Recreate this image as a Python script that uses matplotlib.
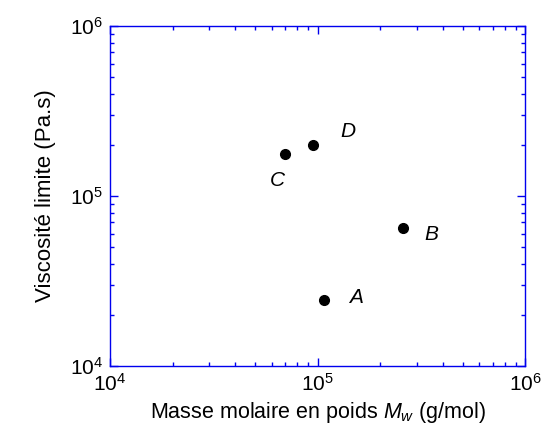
import numpy as np
import matplotlib
matplotlib.use("Agg")
import matplotlib.pyplot as plt
from matplotlib.ticker import LogLocator, FuncFormatter, NullFormatter

plt.rcParams["font.family"] = ["Liberation Sans", "DejaVu Sans"]
plt.rcParams["mathtext.fontset"] = "custom"
plt.rcParams["mathtext.rm"] = "Liberation Sans"
plt.rcParams["mathtext.it"] = "Liberation Sans:italic"

# ---- données ----
echantillons = ["A", "B", "C", "D"]
mw = [1.07e5, 2.57e5, 6.97e4, 9.55e4]          # g/mol
visco = [2.46e4, 6.5e4, 1.78e5, 2.0e5]          # Pa.s
decalages = [(32, 2), (29, -7), (-8, -27), (34, 13)]  # position des lettres, en pixels

BLEU = "#0000ee"

fig = plt.figure(figsize=(5.42, 4.29), dpi=100)
ax = fig.add_axes([0.203, 0.147, 0.766, 0.792])

ax.plot(mw, visco, "o", color="black", ms=7, ls="none")
for nom, x, y, (dx, dy) in zip(echantillons, mw, visco, decalages):
    ax.annotate(nom, (x, y), xytext=(dx * 0.72, dy * 0.72), textcoords="offset points",
                ha="center", va="center", fontsize=15, style="italic")

ax.set_xscale("log")
ax.set_yscale("log")
ax.set_xlim(1e4, 1e6)
ax.set_ylim(1e4, 1e6)

fmt = FuncFormatter(lambda v, p: r"$10^{%d}$" % round(np.log10(v)))
for axe in (ax.xaxis, ax.yaxis):
    axe.set_major_locator(LogLocator(base=10, numticks=5))
    axe.set_minor_locator(LogLocator(base=10, subs=np.arange(2, 10), numticks=20))
    axe.set_major_formatter(fmt)
    axe.set_minor_formatter(NullFormatter())

ax.tick_params(which="both", direction="in", top=True, right=True, color=BLEU, width=1)
ax.tick_params(which="major", length=6, labelsize=15, pad=5)
ax.tick_params(which="minor", length=3)
for sp in ax.spines.values():
    sp.set_color(BLEU)
    sp.set_linewidth(1)

ax.set_xlabel(r"Masse molaire en poids $M_{w}$ (g/mol)", fontsize=15.5, labelpad=4)
ax.set_ylabel("Viscosité limite (Pa.s)", fontsize=16, labelpad=10)

fig.savefig("out.png", dpi=100)
